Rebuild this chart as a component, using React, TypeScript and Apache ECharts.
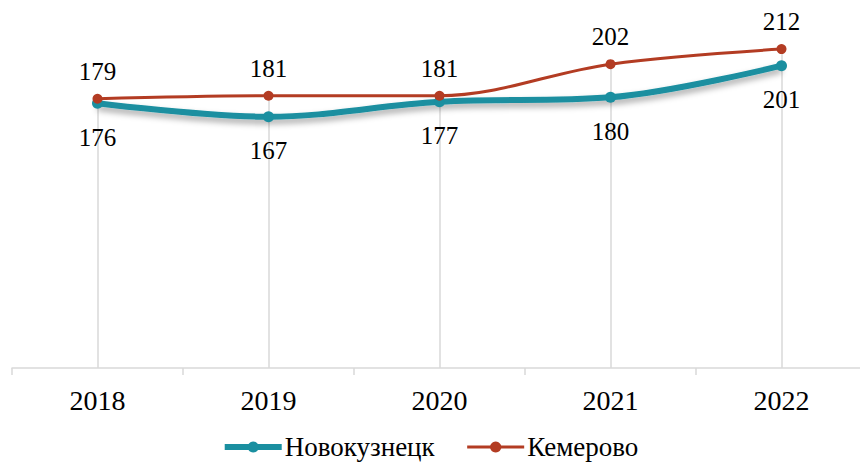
import React, { useEffect, useRef } from "react";
import * as echarts from "echarts";

const categories = ["2018", "2019", "2020", "2021", "2022"];
const novokuznetsk = [176, 167, 177, 180, 201];
const kemerovo = [179, 181, 181, 202, 212];
const seriesNames = ["Новокузнецк", "Кемерово"];

const FONT = "'Liberation Serif', 'Times New Roman', serif";

export default function App() {
  const ref = useRef<HTMLDivElement>(null);
  useEffect(() => {
    if (!ref.current) return;
    const chart = echarts.init(ref.current, undefined, { renderer: "svg" });
    const dropLines = categories.map((c, i) => [
      { coord: [c, Math.max(novokuznetsk[i], kemerovo[i])] },
      { coord: [c, 0] },
    ]);
    chart.setOption({
      animation: false,
      grid: { left: 12, width: 855, top: 7, bottom: 98, outerBoundsMode: "none", containLabel: false },
      legend: {
        top: 433,
        left: "center",
        padding: 0,
        itemWidth: 57,
        itemHeight: 14,
        itemGap: 31,
        textStyle: { fontFamily: FONT, fontSize: 27, lineHeight: 28, color: "#000", padding: [0, 0, 0, -2] },
        data: [
          { name: seriesNames[0], lineStyle: { width: 6, color: "#1a8fa0" } },
          { name: seriesNames[1], lineStyle: { width: 3, color: "#b33c23" } },
        ],
      },
      xAxis: {
        type: "category",
        data: categories,
        boundaryGap: true,
        axisLine: { lineStyle: { color: "#d9d9d9", width: 1.5 } },
        axisTick: { show: true, length: 7, lineStyle: { color: "#d9d9d9", width: 1.5 } },
        axisLabel: { fontFamily: FONT, fontSize: 28, color: "#000", margin: 18 },
        splitLine: { show: false },
      },
      yAxis: {
        type: "value",
        min: 0,
        max: 240,
        show: false,
        splitLine: { show: false },
      },
      series: [
        {
          name: seriesNames[0],
          type: "line",
          data: novokuznetsk,
          smooth: 0.35,
          z: 3,
          symbol: "circle",
          symbolSize: 11,
          itemStyle: { color: "#1a8fa0" },
          lineStyle: {
            color: "#1a8fa0",
            width: 6,
            shadowColor: "rgba(0,0,0,0.35)",
            shadowBlur: 6,
            shadowOffsetY: 4,
          },
          label: {
            show: true,
            position: "bottom",
            distance: 16,
            fontFamily: FONT,
            fontSize: 25,
            color: "#000",
          },
        },
        {
          name: seriesNames[1],
          type: "line",
          data: kemerovo,
          smooth: 0.35,
          z: 4,
          symbol: "circle",
          symbolSize: 10,
          itemStyle: { color: "#b33c23" },
          lineStyle: { color: "#b33c23", width: 3 },
          label: {
            show: true,
            position: "top",
            distance: 10,
            fontFamily: FONT,
            fontSize: 25,
            color: "#000",
          },
          markLine: {
            silent: true,
            symbol: "none",
            z: 1,
            label: { show: false },
            lineStyle: { color: "#d9d9d9", width: 1.5, type: "solid" },
            emphasis: { disabled: true },
            data: dropLines,
          },
        },
      ],
    });
    return () => chart.dispose();
  }, []);
  return <div ref={ref} style={{ width: 860, height: 466, position: "absolute", left: 0, top: 0 }} />;
}
